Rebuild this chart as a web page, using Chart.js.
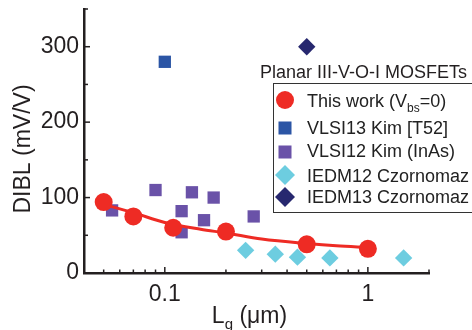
<!DOCTYPE html>
<html>
<head>
<meta charset="utf-8">
<script src="https://cdn.jsdelivr.net/npm/chart.js@4/dist/chart.umd.min.js"></script>
<style>
html,body{margin:0;padding:0;background:#fff;}
#wrap{width:472px;height:330px;position:relative;}
</style>
</head>
<body>
<div id="wrap"><canvas id="c" width="472" height="330"></canvas></div>
<script>
// ---- data ----
const thisWorkLg   = [0.05, 0.07, 0.11, 0.2, 0.5, 1.0];
const thisWorkDibl = [94, 75, 60, 55, 38, 32];
const fitLg        = [0.05, 0.07, 0.1, 0.15, 0.2, 0.3, 0.5, 0.7, 1.0];
const fitDibl      = [91, 80, 67, 58, 53, 45, 39, 36, 34];
const vlsi13Lg     = [0.1];
const vlsi13Dibl   = [280];
const vlsi12Lg     = [0.055, 0.09, 0.121, 0.121, 0.136, 0.156, 0.174, 0.274];
const vlsi12Dibl   = [83, 110, 82, 54, 107, 70, 100, 75];
const iedm12Lg     = [0.25, 0.35, 0.45, 0.65, 1.5];
const iedm12Dibl   = [30, 25, 21, 20, 20];
const iedm13Lg     = [0.5];
const iedm13Dibl   = [300];
const yTickLabels  = [0, 100, 200, 300];
const xTickLabels  = [0.1, 1];
const yTitle       = 'DIBL (mV/V)';
const legendTitle  = 'Planar III-V-O-I MOSFETs';
const seriesNames  = ['This work (V|bs|=0)', 'VLSI13 Kim [T52]', 'VLSI12 Kim (InAs)', 'IEDM12 Czornomaz', 'IEDM13 Czornomaz'];

const pts = (xs, ys) => xs.map((x, i) => ({x, y: ys[i]}));
const FONT = '"Liberation Sans", Arial, Helvetica, sans-serif';
const INK = '#231f20';

const decorPlugin = {
  id: 'customDecor',
  afterDraw(chart) {
    const ctx = chart.ctx;
    const xs = chart.scales.x, ys = chart.scales.y;
    const ca = chart.chartArea;
    ctx.save();
    // tick marks (inward)
    ctx.strokeStyle = INK;
    ctx.lineWidth = 1.5;
    for (let v = 50; v <= 350; v += 50) {
      const y = ys.getPixelForValue(v);
      const len = (v % 100 === 0) ? 6 : 4;
      ctx.beginPath(); ctx.moveTo(ca.left, y); ctx.lineTo(ca.left + len, y); ctx.stroke();
    }
    const minors = [0.05,0.06,0.07,0.08,0.09,0.2,0.3,0.4,0.5,0.6,0.7,0.8,0.9,2];
    minors.forEach(v => {
      const x = xs.getPixelForValue(v);
      ctx.beginPath(); ctx.moveTo(x, ca.bottom); ctx.lineTo(x, ca.bottom - 3.5); ctx.stroke();
    });
    xTickLabels.forEach(v => {
      const x = xs.getPixelForValue(v);
      ctx.beginPath(); ctx.moveTo(x, ca.bottom); ctx.lineTo(x, ca.bottom - 6); ctx.stroke();
    });

    // y axis title
    ctx.fillStyle = INK;
    ctx.textBaseline = 'alphabetic';
    ctx.textAlign = 'center';
    ctx.font = '23px ' + FONT;
    ctx.save();
    ctx.translate(29.5, 149);
    ctx.rotate(-Math.PI / 2);
    ctx.fillText(yTitle, 0, 0);
    ctx.restore();

    // x axis title with subscript
    ctx.textAlign = 'left';
    ctx.font = '23px ' + FONT;
    const main1 = 'L', sub = 'g', rest = ' (\u03bcm)';
    const w1 = ctx.measureText(main1).width;
    ctx.font = '15px ' + FONT;
    const ws = ctx.measureText(sub).width;
    ctx.font = '23px ' + FONT;
    const w2 = ctx.measureText(rest).width;
    let tx = 249.5 - (w1 + ws + w2) / 2;
    const tb = 323;
    ctx.fillText(main1, tx, tb); tx += w1;
    ctx.font = '15px ' + FONT; ctx.fillText(sub, tx, tb + 6); tx += ws;
    ctx.font = '23px ' + FONT; ctx.fillText(rest, tx, tb);

    // legend
    ctx.font = '18px ' + FONT;
    ctx.fillText(legendTitle, 260, 78);
    ctx.fillStyle = '#fff';
    ctx.fillRect(273.5, 83.5, 220, 129);
    ctx.strokeStyle = '#333';
    ctx.lineWidth = 1;
    ctx.strokeRect(273.5, 83.5, 220, 129);
    const markerY = [100, 128, 152, 175, 197];
    const baseY   = [107, 134, 157, 182, 203];
    const dsIdx = [0, 2, 3, 4, 5];
    const legR = [9, 9.2, 9.2, 10, 10];
    markerY.forEach((ry, i) => {
      const ds = chart.data.datasets[dsIdx[i]];
      ctx.fillStyle = ds.backgroundColor;
      Chart.helpers.drawPoint(ctx, {pointStyle: ds.pointStyle, radius: legR[i], borderWidth: 0}, 285, ry);
      ctx.fillStyle = '#222';
      const parts = seriesNames[i].split('|');
      let x = 307;
      const base = baseY[i];
      parts.forEach((p, k) => {
        if (k % 2 === 1) {
          ctx.font = '12px ' + FONT;
          ctx.fillText(p, x, base + 5);
        } else {
          ctx.font = '18px ' + FONT;
          ctx.fillText(p, x, base);
        }
        x += ctx.measureText(p).width;
      });
    });
    ctx.restore();
  }
};

const ctxEl = document.getElementById('c');
new Chart(ctxEl, {
  type: 'scatter',
  data: {
    datasets: [
      {label: 'This work', data: pts(thisWorkLg, thisWorkDibl), pointStyle: 'circle', pointRadius: 9,
       backgroundColor: '#ee2b24', borderWidth: 0, order: 0},
      {label: 'fit', data: pts(fitLg, fitDibl), showLine: true, pointRadius: 0, borderColor: '#ee2b24',
       borderWidth: 3, cubicInterpolationMode: 'monotone', order: 1},
      {label: 'VLSI13', data: pts(vlsi13Lg, vlsi13Dibl), pointStyle: 'rect', pointRadius: 8.7,
       backgroundColor: '#2b55a5', borderWidth: 0, order: 3},
      {label: 'VLSI12', data: pts(vlsi12Lg, vlsi12Dibl), pointStyle: 'rect', pointRadius: 8.7,
       backgroundColor: '#6a52a8', borderWidth: 0, order: 3},
      {label: 'IEDM12', data: pts(iedm12Lg, iedm12Dibl), pointStyle: 'rectRot', pointRadius: 8.7,
       backgroundColor: '#6dcde0', borderWidth: 0, order: 2},
      {label: 'IEDM13', data: pts(iedm13Lg, iedm13Dibl), pointStyle: 'rectRot', pointRadius: 8.7,
       backgroundColor: '#27286f', borderWidth: 0, order: 3}
    ]
  },
  options: {
    responsive: false,
    animation: false,
    layout: {padding: {top: 7, right: 43, left: 0, bottom: 0}},
    plugins: {legend: {display: false}, tooltip: {enabled: false}},
    scales: {
      x: {
        type: 'logarithmic', min: 0.04, max: 2,
        grid: {display: false, drawTicks: false},
        border: {display: true, color: INK, width: 2.5},
        afterFit: s => { s.height = 57; s.paddingLeft = 0; s.paddingRight = 0; },
        afterBuildTicks: s => { s.ticks = xTickLabels.map(v => ({value: v})); },
        ticks: {
          autoSkip: false, maxRotation: 0, padding: 8, color: INK,
          font: {family: FONT, size: 23},
          callback: v => String(v)
        }
      },
      y: {
        min: 0, max: 350,
        grid: {display: false, drawTicks: false},
        border: {display: true, color: INK, width: 2.5},
        afterFit: s => { s.width = 84; s.paddingTop = 0; s.paddingBottom = 0; },
        afterBuildTicks: s => { s.ticks = yTickLabels.map(v => ({value: v})); },
        ticks: {padding: 5, color: INK, font: {family: FONT, size: 23}}
      }
    }
  },
  plugins: [decorPlugin]
});
</script>
</body>
</html>
